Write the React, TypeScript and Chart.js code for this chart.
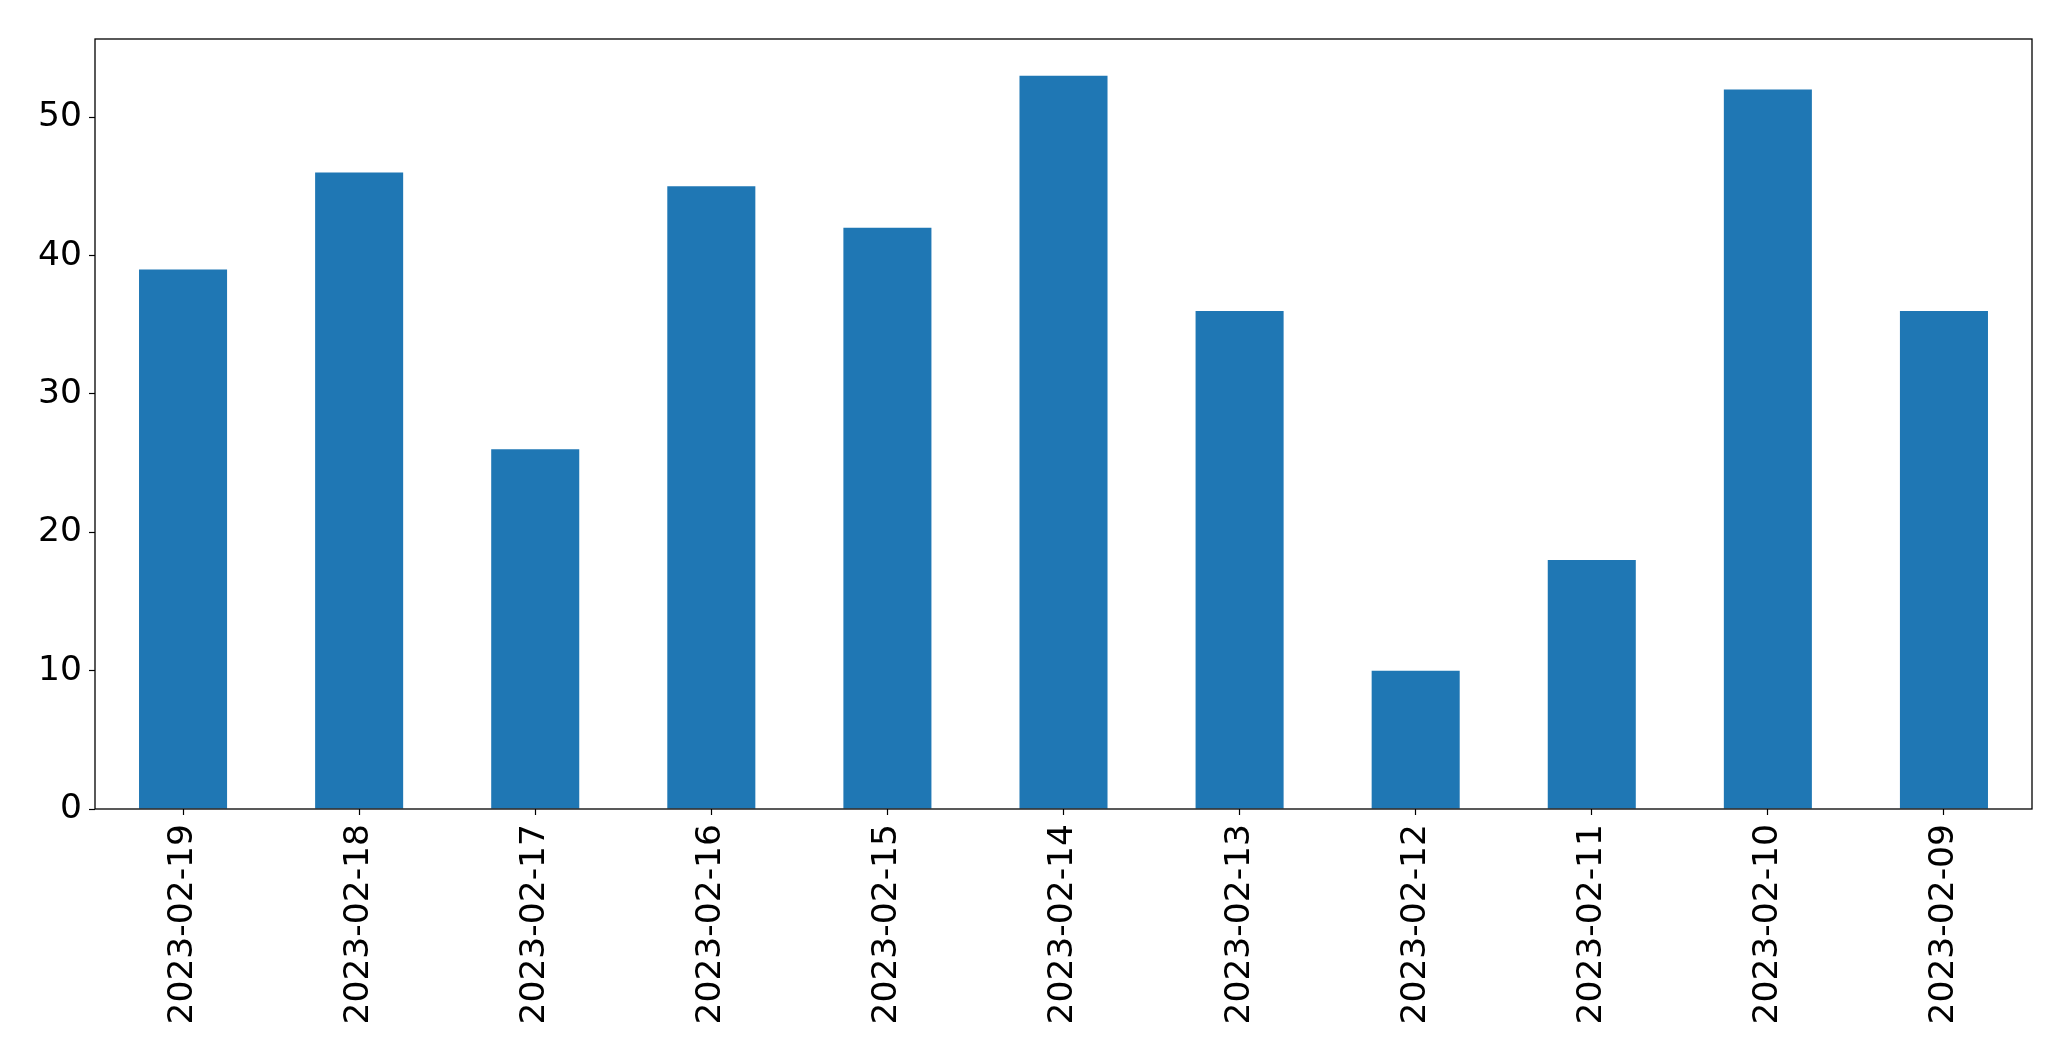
import React, { useEffect, useRef } from "react";
import { Chart, registerables } from "chart.js";

Chart.register(...registerables);

const categories: string[] = [
  "2023-02-19", "2023-02-18", "2023-02-17", "2023-02-16", "2023-02-15", "2023-02-14",
  "2023-02-13", "2023-02-12", "2023-02-11", "2023-02-10", "2023-02-09",
];
const values: number[] = [39, 46, 26, 45, 42, 53, 36, 10, 18, 52, 36];
const yTicks: number[] = [0, 10, 20, 30, 40, 50];
const yMax = 55.65;

const W = 2071;
const H = 1061;
const FONT = { family: "'DejaVu Sans', sans-serif", size: 34.5 };

const framePlugin = {
  id: "frame",
  afterDraw(chart: any) {
    const { ctx, chartArea } = chart;
    ctx.save();
    ctx.strokeStyle = "#000";
    ctx.lineWidth = 1.3;
    ctx.strokeRect(chartArea.left, chartArea.top, chartArea.right - chartArea.left, chartArea.bottom - chartArea.top);
    ctx.restore();
  },
};

export default function App() {
  const ref = useRef<HTMLCanvasElement | null>(null);
  useEffect(() => {
    if (!ref.current) return;
    const chart = new Chart(ref.current, {
      type: "bar",
      data: {
        labels: categories,
        datasets: [
          {
            data: values,
            backgroundColor: "#1f77b4",
            borderWidth: 0,
            categoryPercentage: 1,
            barPercentage: 0.5,
          },
        ],
      },
      options: {
        responsive: false,
        animation: false,
        devicePixelRatio: 1,
        layout: { padding: { top: 39, right: 39, left: 0, bottom: 0 } },
        plugins: { legend: { display: false }, tooltip: { enabled: false } },
        scales: {
          x: {
            offset: true,
            grid: {
              display: true,
              drawOnChartArea: false,
              drawTicks: true,
              tickLength: 6,
              tickColor: "#000",
              tickWidth: 1.2,
              offset: false,
            },
            border: { display: false },
            ticks: {
              color: "#000",
              font: FONT,
              minRotation: 90,
              maxRotation: 90,
              padding: 9,
              autoSkip: false,
            },
            afterFit(scale: any) {
              scale.height = H - 809;
            },
          },
          y: {
            min: 0,
            max: yMax,
            grid: {
              display: true,
              drawOnChartArea: false,
              drawTicks: true,
              tickLength: 6,
              tickColor: "#000",
              tickWidth: 1.2,
            },
            border: { display: false },
            ticks: {
              color: "#000",
              font: FONT,
              padding: 7,
              stepSize: 10,
            },
            afterBuildTicks(scale: any) {
              scale.ticks = yTicks.map((v) => ({ value: v }));
            },
            afterFit(scale: any) {
              scale.width = 95;
            },
          },
        },
      },
      plugins: [framePlugin],
    });
    return () => chart.destroy();
  }, []);
  return (
    <div style={{ position: "fixed", left: 0, top: 0, width: W, height: H, background: "#fff" }}>
      <canvas ref={ref} width={W} height={H} style={{ width: W, height: H, display: "block" }} />
    </div>
  );
}
